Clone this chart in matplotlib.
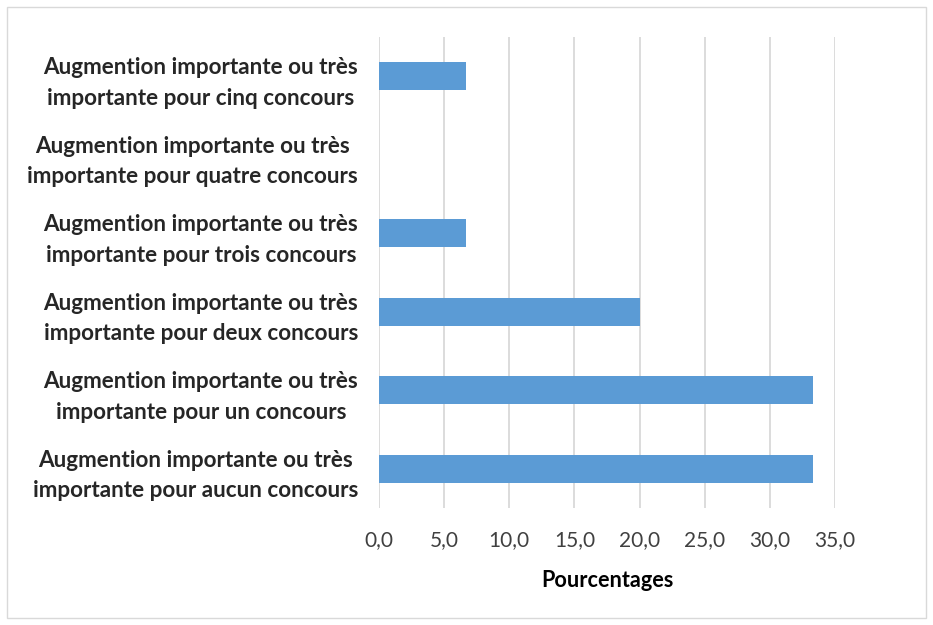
import numpy as np
import matplotlib
matplotlib.use("Agg")
import matplotlib.pyplot as plt
from matplotlib.patches import Rectangle

# categories from bottom to top
categories = [
    "Augmention importante ou très\nimportante pour aucun concours",
    "Augmention importante ou très\nimportante pour un concours",
    "Augmention importante ou très\nimportante pour deux concours",
    "Augmention importante ou très\nimportante pour trois concours",
    "Augmention importante ou très\nimportante pour quatre concours",
    "Augmention importante ou très\nimportante pour cinq concours",
]
pourcentages = [33.33, 33.33, 20.0, 6.67, 0.0, 6.67]
xticks = [0, 5, 10, 15, 20, 25, 30, 35]

plt.rcParams["font.family"] = ["Lato", "DejaVu Sans"]

fig = plt.figure(figsize=(9.33, 6.25), dpi=100)
ax = fig.add_axes([0.4062, 0.1872, 0.4888, 0.7536])

y = np.arange(len(categories))
ax.barh(y, pourcentages, height=0.355, color="#5B9BD5", zorder=3)

ax.set_xlim(0, 35)
ax.set_ylim(-0.5, len(categories) - 0.5)
ax.set_xticks(xticks)
ax.set_xticklabels([f"{v:.1f}".replace(".", ",") for v in xticks],
                   fontsize=15, color="#404040")
ax.set_yticks(y)
ax.set_yticklabels(categories, fontsize=16.2, fontweight="bold", color="#262626")
for t in ax.get_yticklabels():
    t.set_multialignment("center")
    t.set_linespacing(1.55)

ax.tick_params(axis="both", length=0)
ax.tick_params(axis="y", pad=15)
ax.tick_params(axis="x", pad=16)
ax.grid(axis="x", color="#D9D9D9", linewidth=1.3, zorder=0)
for s in ax.spines.values():
    s.set_visible(False)

ax.set_xlabel("Pourcentages", fontsize=15.6, fontweight="bold", color="black", labelpad=14)

# outer chart border
fig.patches.append(Rectangle((7 / 933, 7 / 625), 919 / 933, 611 / 625,
                             transform=fig.transFigure, fill=False,
                             edgecolor="#D9D9D9", linewidth=1))

plt.savefig("out.png", dpi=100)
